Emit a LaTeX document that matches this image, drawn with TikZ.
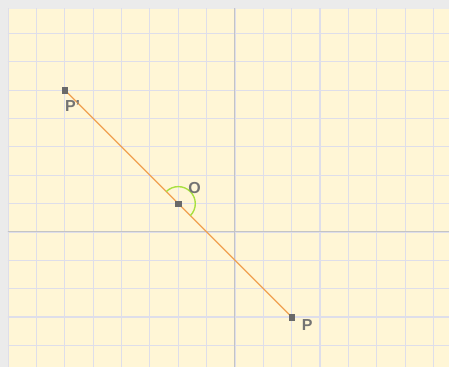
\documentclass[tikz,border=0pt]{standalone}
\usepackage{fontspec}
\setmainfont{Liberation Sans}
\usetikzlibrary{positioning}
\definecolor{margin}{RGB}{235, 235, 235}
\definecolor{paper}{RGB}{255, 246, 214}
\definecolor{gridc}{RGB}{222, 222, 234}
\definecolor{axisc}{RGB}{196, 196, 196}
\definecolor{segc}{RGB}{240, 160, 80}
\definecolor{angc}{RGB}{168, 224, 64}
\definecolor{pntc}{RGB}{105, 105, 105}
\definecolor{lblc}{RGB}{115, 115, 115}

\begin{document}
\begin{tikzpicture}[
        pnt/.style={draw=pntc, fill=pntc, inner sep=0pt, minimum size=5.5pt},
        lbl/.style={text=lblc, font=\fontsize{16}{16}\selectfont\bfseries, inner sep=1pt},
        seg/.style={segc, line width=1.2pt},
        ang/.style={angc, line width=1.4pt}
      ]
        % frame and paper
        \fill[margin] (-8.289,-4.762) rectangle (7.549,8.183);
        \fill[paper] (-8.007,-4.762) rectangle (7.549,7.866);
        \begin{scope}
          \clip (-8.007,-4.762) rectangle (7.549,7.866);
          \draw[gridc, line width=1.1pt] (-9,-5) grid (8,8);
          \draw[axisc, line width=1pt] (-9,0) -- (8,0);
          \draw[axisc, line width=1pt] (0,-5) -- (0,8);
        \end{scope}

        \coordinate (pp0) at (-6,5);
        \coordinate (o0) at (-2,1);
        \coordinate (p0) at (2,-3);

        \draw[seg] (pp0) -- (p0);
        \draw[ang] ([shift={(135:0.6)}]o0) arc[start angle=135, end angle=-45, radius=0.6];

        \node[pnt] (pp) at (pp0) {};
        \node[pnt] (o) at (o0) {};
        \node[pnt] (p) at (p0) {};

        \node[lbl, below right=6pt and -4pt of pp] (lpp) {P'};
        \node[lbl, above right=6pt and 6pt of o] (lo) {O};
        \node[lbl, below right=-2pt and 6pt of p] (lp) {P};
      \end{tikzpicture}
\end{document}
